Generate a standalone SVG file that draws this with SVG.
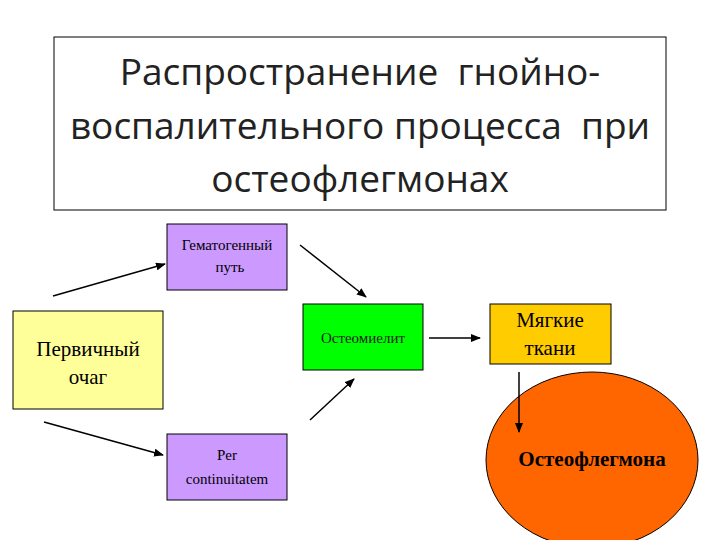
<svg xmlns="http://www.w3.org/2000/svg" width="720" height="540" viewBox="0 0 720 540">
<defs><marker id="ah" markerWidth="10" markerHeight="8" refX="9" refY="4" orient="auto" markerUnits="userSpaceOnUse"><path d="M0,0 L10,4 L0,8 Z" fill="#000"/></marker></defs>
<style>.b{stroke:#000;stroke-width:1}.t{font-family:"Liberation Serif",serif;font-size:15px;text-anchor:middle}.big{font-size:21px}.c line{stroke:#000;stroke-width:1.5;marker-end:url(#ah)}</style>
<rect width="720" height="540" fill="#fff"/>
<g id="title"><rect x="54" y="37" width="612" height="173" fill="#fff" class="b"/>
<text font-family="Open Sans, sans-serif" font-size="37" text-anchor="middle" fill="#222"><tspan x="360" y="85" xml:space="preserve">Распространение  гнойно-</tspan><tspan x="360" y="139" xml:space="preserve">воспалительного процесса  при</tspan><tspan x="360" y="192">остеофлегмонах</tspan></text></g>
<g id="gem"><rect x="167" y="224" width="120" height="66" fill="#cc99ff" class="b"/><text class="t"><tspan x="227" y="250">Гематогенный</tspan><tspan x="230" y="272">путь</tspan></text></g>
<g id="per"><rect x="167" y="434" width="120" height="66" fill="#cc99ff" class="b"/><text class="t"><tspan x="227" y="460">Per</tspan><tspan x="227" y="484">continuitatem</tspan></text></g>
<g id="prim"><rect x="13" y="311" width="150" height="98" fill="#ffff99" class="b"/><text class="t big"><tspan x="88" y="356">Первичный</tspan><tspan x="88" y="384">очаг</tspan></text></g>
<g id="osteo"><rect x="303" y="304" width="120" height="66" fill="#00ff00" class="b"/><text class="t" x="363" y="343" fill="#222">Остеомиелит</text></g>
<g id="soft"><rect x="490" y="304" width="121" height="60" fill="#ffcc00" class="b"/><text class="t big"><tspan x="550" y="327">Мягкие</tspan><tspan x="550" y="355">ткани</tspan></text></g>
<g id="flegm"><ellipse cx="592" cy="460" rx="106" ry="88" fill="#ff6600" stroke="#000"/><text class="t big" x="592" y="466" font-weight="bold">Остеофлегмона</text></g>
<g class="c" id="connectors">
<line x1="53" y1="296" x2="165" y2="264"/>
<line x1="300" y1="245" x2="366" y2="297"/>
<line x1="44" y1="422" x2="163" y2="455"/>
<line x1="310" y1="420" x2="354" y2="379"/>
<line x1="429" y1="338" x2="480" y2="338"/>
<line x1="519" y1="372" x2="519" y2="432"/>
</g>
</svg>
